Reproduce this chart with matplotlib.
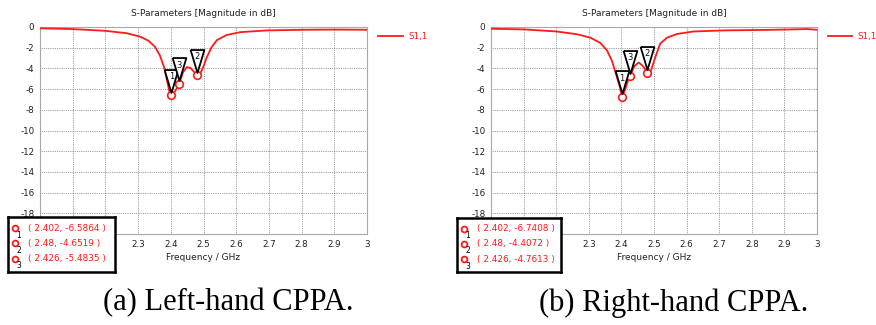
import numpy as np
import matplotlib
matplotlib.use('Agg')
import matplotlib.pyplot as plt
from matplotlib.transforms import offset_copy

# ---- data ----
freq_left = [2.0, 2.1, 2.2, 2.265, 2.306, 2.332, 2.352, 2.367, 2.38, 2.388, 2.396, 2.402,
             2.41, 2.418, 2.426, 2.437, 2.449, 2.46, 2.47, 2.48, 2.49, 2.5, 2.51, 2.525,
             2.541, 2.571, 2.612, 2.694, 2.8, 2.9, 3.0]
s11_left = [-0.13, -0.2, -0.37, -0.6, -0.93, -1.33, -1.93, -2.77, -3.93, -5.1, -6.27, -6.59,
            -6.35, -5.95, -5.48, -4.4, -3.87, -3.95, -4.3, -4.65, -4.5, -3.8, -2.93, -1.93,
            -1.27, -0.77, -0.5, -0.33, -0.27, -0.25, -0.27]

freq_right = [2.0, 2.1, 2.2, 2.264, 2.305, 2.335, 2.356, 2.371, 2.384, 2.395, 2.402,
              2.412, 2.42, 2.426, 2.44, 2.453, 2.466, 2.48, 2.49, 2.504, 2.519, 2.54,
              2.571, 2.622, 2.714, 2.867, 2.97, 3.0]
s11_right = [-0.17, -0.23, -0.43, -0.7, -1.03, -1.53, -2.27, -3.27, -4.6, -5.77, -6.74,
             -6.0, -5.2, -4.76, -3.77, -3.43, -3.77, -4.41, -4.27, -2.93, -1.6, -1.03,
             -0.67, -0.43, -0.33, -0.27, -0.2, -0.27]

marker_ids = ['1', '2', '3']
mark_x_left = [2.402, 2.48, 2.426]
mark_y_left = [-6.5864, -4.6519, -5.4835]
mark_x_right = [2.402, 2.48, 2.426]
mark_y_right = [-6.7408, -4.4072, -4.7613]
mark_text_left = ['( 2.402, -6.5864 )', '( 2.48, -4.6519 )', '( 2.426, -5.4835 )']
mark_text_right = ['( 2.402, -6.7408 )', '( 2.48, -4.4072 )', '( 2.426, -4.7613 )']

x_tick_labels = ['2.3', '2.4', '2.5', '2.6', '2.7', '2.8', '2.9', '3']
y_ticks = [0, -2, -4, -6, -8, -10, -12, -14, -16, -18]

captions = ['(a) Left-hand CPPA.', '(b) Right-hand CPPA.']

W, H = 876, 325
fig = plt.figure(figsize=(W / 100, H / 100), dpi=100)
plt.rcParams['font.family'] = ['DejaVu Sans']

red = '#ff1a1a'
tri_verts = [(-0.3, 0.5), (0.3, 0.5), (0.0, -0.5), (-0.3, 0.5)]


def px_box(x0, y0, x1, y1):
    # pixel box (top-left origin) -> figure fraction rect
    return [x0 / W, 1 - y1 / H, (x1 - x0) / W, (y1 - y0) / H]


def draw_panel(ax_rect, freq, s11, mx, my, legend_x, box_rect, box_texts, caption, cap_x):
    ax = fig.add_axes(px_box(*ax_rect))
    ax.plot(freq, s11, color=red, lw=1.3, zorder=3)
    ax.set_xlim(2.0, 3.0)
    ax.set_ylim(-20, 0)
    ax.set_xticks(np.arange(2.0, 3.01, 0.1))
    ax.set_xticklabels([''] * 3 + x_tick_labels)
    ax.set_yticks(y_ticks + [-20])
    ax.set_yticklabels([str(v) for v in y_ticks] + [''])
    ax.tick_params(length=0, labelsize=6.3, colors='#222222', pad=4)
    ax.grid(True, color='#808080', ls=(0, (1, 1.2)), lw=0.6)
    for sp in ax.spines.values():
        sp.set_color('#a8a8a8')
    ax.set_title('S-Parameters [Magnitude in dB]', fontsize=6.5, color='#222222', pad=8)
    ax.set_xlabel('Frequency / GHz', fontsize=6.5, color='#222222', labelpad=3)

    # markers with numbered triangles
    ax.plot(mx, my, 'o', mfc='white', mec=red, ms=5.5, mew=1.2, zorder=4)
    tri_tr = offset_copy(ax.transData, fig=fig, y=10.5, units='points')
    txt_tr = offset_copy(ax.transData, fig=fig, y=13.5, units='points')
    for x, y, lab in zip(mx, my, marker_ids):
        ax.plot([x], [y], marker=tri_verts, ms=16.5, mfc='white', mec='black', mew=1.3,
                transform=tri_tr, zorder=5, clip_on=False)
        ax.text(x, y, lab, transform=txt_tr, ha='center', va='center', fontsize=6,
                color='#111111', zorder=6)

    # legend entry outside the axes
    lx0, lx1, ly = legend_x
    fig.add_artist(plt.Line2D([lx0 / W, lx1 / W], [1 - ly / H] * 2, color=red, lw=1.3))
    fig.text((lx1 + 5) / W, 1 - ly / H, 'S1,1', color=red, fontsize=6.3, va='center')

    # marker value box
    bx = fig.add_axes(px_box(*box_rect), zorder=10)
    bx.set_xticks([])
    bx.set_yticks([])
    bx.set_xlim(0, 1)
    bx.set_ylim(0, 1)
    for sp in bx.spines.values():
        sp.set_color('black')
        sp.set_linewidth(1.8)
    for i, (lab, t) in enumerate(zip(marker_ids, box_texts)):
        yy = 0.8 - i * 0.28
        bx.plot([0.07], [yy], 'o', mfc='white', mec=red, ms=4.2, mew=1.3)
        bx.text(0.1, yy - 0.13, lab, fontsize=5.5, color='black', ha='center', va='center')
        bx.text(0.19, yy, t, fontsize=6.4, color=red, ha='left', va='center')

    fig.text(cap_x / W, 1 - 303 / H, caption, family='Liberation Serif', fontsize=22,
             ha='center', va='center', color='black')


draw_panel((40, 27, 367, 234), freq_left, s11_left, mark_x_left, mark_y_left,
           (378, 403, 36), (8, 217, 115, 272), mark_text_left, captions[0], 228)
draw_panel((491, 27, 817, 234), freq_right, s11_right, mark_x_right, mark_y_right,
           (828, 852, 36), (457, 218, 561, 272), mark_text_right, captions[1], 674)

fig.savefig('out.png', dpi=100)
